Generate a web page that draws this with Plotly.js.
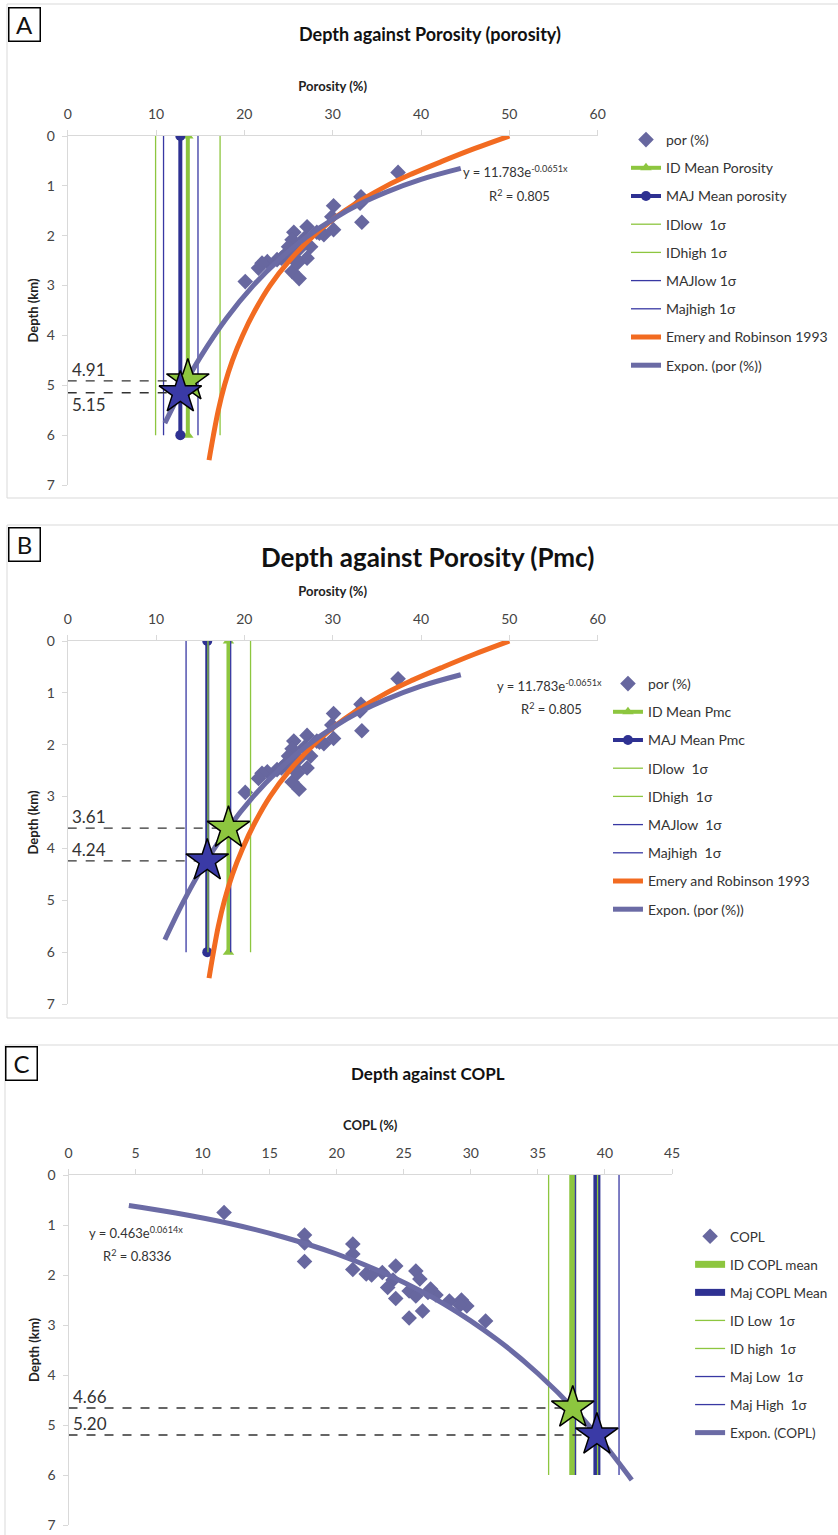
<!DOCTYPE html>
<html>
<head>
<meta charset="utf-8">
<script src="https://cdn.plot.ly/plotly-3.0.1.min.js"></script>
<style>html,body{margin:0;padding:0;background:#fff;}#chart{width:838px;height:1535px;}</style>
</head>
<body>
<div id="chart"></div>
<script>
// ---------- DATA ----------
// Porosity samples (panels A and B)
const porosityValues = [37.4,33.2,33.1,33.3,30.1,29.9,30.1,29.0,28.2,27.1,26.8,27.5,27.1,26.2,25.6,25.4,25.2,25.0,24.6,25.6,23.7,22.6,22.0,21.6,20.1,25.4,26.2,28.5,24.2,26.0];
const porosityDepths = [0.73,1.22,1.35,1.73,1.40,1.62,1.88,1.98,1.93,1.82,2.05,2.22,2.45,2.27,1.93,2.08,2.30,2.22,2.38,2.42,2.48,2.52,2.55,2.65,2.92,2.72,2.86,1.95,2.45,2.55];
// Exponential trend (por (%))
const porTrendX = [11.0,13.0,15.0,18.0,21.0,24.0,27.0,30.0,33.0,36.0,40.0,44.5];
const porTrendDepth = [5.76,5.06,4.44,3.65,3.00,2.47,2.03,1.67,1.37,1.13,0.87,0.65];
// Emery and Robinson 1993 curve
const emeryX = [50.0,46.1,42.5,39.1,36.1,31.35,27.85,25.1,22.9,21.2,19.8,18.65,17.75,17.05,16.5,16.0];
const emeryDepth = [0.0,0.25,0.5,0.75,1.0,1.5,2.0,2.5,3.0,3.5,4.0,4.5,5.0,5.5,6.0,6.5];
// COPL samples (panel C)
const coplValues = [11.6,17.6,17.6,17.6,21.2,21.2,21.2,22.2,23.4,24.4,24.2,23.8,24.4,25.9,26.2,25.4,25.9,26.4,25.4,27.0,27.4,28.4,29.3,29.7,29.2,31.1,26.8,22.6];
const coplDepths = [0.75,1.20,1.36,1.73,1.38,1.58,1.89,1.98,1.95,1.82,2.10,2.25,2.47,1.92,2.08,2.32,2.42,2.72,2.86,2.28,2.40,2.52,2.50,2.62,2.60,2.92,2.35,2.00];
const coplTrendX = [4.5,8,12,16,20,24,28,32,35,38,40,42];
const coplTrendDepth = [0.61,0.76,0.97,1.24,1.58,2.02,2.58,3.30,3.97,4.77,5.40,6.10];
// vertical reference lines span (km)
const lineDepthSpan = [0, 6];
// Panel A values (ID mean, MAJ mean, IDlow, IDhigh, MAJlow, Majhigh)
const panelAValues = [13.6, 12.75, 9.95, 17.25, 10.85, 14.75];
const panelAStarDepths = [4.91, 5.15];
// Panel B values
const panelBValues = [18.2, 15.8, 15.88, 20.7, 13.4, 18.45];
const panelBStarDepths = [3.61, 4.24];
// Panel C values (ID mean, Maj mean, ID low, ID high, Maj low, Maj high)
const panelCValues = [37.6, 39.4, 35.8, 39.45, 37.8, 41.05];
const panelCStarDepths = [4.66, 5.20];
// Tick labels
const porosityTicks = [0,10,20,30,40,50,60];
const coplTicks = [0,5,10,15,20,25,30,35,40,45];
const depthTicks = [0,1,2,3,4,5,6,7];

// ---------- STYLE ----------
const W = 838, H = 1535;
const fy = px => 1 - px / H;
const FONT = 'Lato, "Open Sans", sans-serif';
const DIAMOND = '#67679f';
const TREND = '#6b6ba5';
const ORANGE = '#f26b21';
const GREEN = '#8dc63f';
const BLUE = '#2e3192';
const BLUE_THIN = '#3838a3';

const traces = [];
function addPanel(opts) {
  const {xa, ya, lg, sx, sd, sname, vals, names, starDepths, meanStyle, trend, tname, emery} = opts;
  const grp = lg + '_g';
  traces.push({type:'scatter', mode:'markers', x:sx, y:sd, xaxis:xa, yaxis:ya, legend:lg, name:sname, legendgroup:grp+'0',
    marker:{symbol:'diamond', size:12, color:DIAMOND}});
  const meanColors = [GREEN, BLUE];
  for (let i = 0; i < 2; i++) {
    const t = {type:'scatter', x:[vals[i], vals[i]], y:lineDepthSpan, xaxis:xa, yaxis:ya, legend:lg, name:names[i], legendgroup:grp+'m'+i};
    if (meanStyle === 'markers') {
      t.mode = 'lines+markers';
      t.line = {color: meanColors[i], width: 4};
      t.marker = {symbol: i === 0 ? 'triangle-up' : 'circle', size: 10, color: meanColors[i]};
    } else {
      t.mode = 'lines';
      t.line = {color: meanColors[i], width: 7};
    }
    traces.push(t);
  }
  const thinColors = [GREEN, GREEN, BLUE_THIN, BLUE_THIN];
  for (let i = 2; i < 6; i++) {
    traces.push({type:'scatter', mode:'lines', x:[vals[i], vals[i]], y:lineDepthSpan, xaxis:xa, yaxis:ya, legend:lg,
      name:names[i], legendgroup:grp+'s'+i, line:{color:thinColors[i-2], width:1.3}});
  }
  if (emery) {
    traces.push({type:'scatter', mode:'lines', x:emeryX, y:emeryDepth, xaxis:xa, yaxis:ya, legend:lg,
      name:'Emery and Robinson 1993', legendgroup:grp+'e', line:{color:ORANGE, width:5, shape:'spline'}});
  }
  traces.push({type:'scatter', mode:'lines', x:trend[0], y:trend[1], xaxis:xa, yaxis:ya, legend:lg,
    name:tname, legendgroup:grp+'t', line:{color:TREND, width:5, shape:'spline'}});
  for (let i = 0; i < 2; i++) {
    traces.push({type:'scatter', mode:'lines', x:[0, vals[i]], y:[starDepths[i], starDepths[i]], xaxis:xa, yaxis:ya,
      showlegend:false, hoverinfo:'skip', line:{color:'#333', width:1.3, dash:'dash'}});
  }
  for (let i = 0; i < 2; i++) {
    traces.push({type:'scatter', mode:'markers', x:[vals[i]], y:[starDepths[i]], xaxis:xa, yaxis:ya, showlegend:false,
      marker:{symbol:'star', size:32, color: i === 0 ? GREEN : '#3a3aa6', line:{color:'#000', width:1.5}}});
  }
}

addPanel({xa:'x', ya:'y', lg:'legend', sx:porosityValues, sd:porosityDepths, sname:'por (%)', vals:panelAValues,
  names:['ID Mean Porosity','MAJ Mean porosity','IDlow\u00a0 1σ','IDhigh 1σ','MAJlow 1σ','Majhigh 1σ'],
  starDepths:panelAStarDepths, meanStyle:'markers', trend:[porTrendX, porTrendDepth], tname:'Expon. (por (%))', emery:true});
addPanel({xa:'x2', ya:'y2', lg:'legend2', sx:porosityValues, sd:porosityDepths, sname:'por (%)', vals:panelBValues,
  names:['ID Mean Pmc','MAJ Mean Pmc','IDlow\u00a0 1σ','IDhigh\u00a0 1σ','MAJlow\u00a0 1σ','Majhigh\u00a0 1σ'],
  starDepths:panelBStarDepths, meanStyle:'markers', trend:[porTrendX, porTrendDepth], tname:'Expon. (por (%))', emery:true});
addPanel({xa:'x3', ya:'y3', lg:'legend3', sx:coplValues, sd:coplDepths, sname:'COPL', vals:panelCValues,
  names:['ID COPL mean','Maj COPL Mean','ID Low\u00a0 1σ','ID high\u00a0 1σ','Maj Low\u00a0 1σ','Maj High\u00a0 1σ'],
  starDepths:panelCStarDepths, meanStyle:'thick', trend:[coplTrendX, coplTrendDepth], tname:'Expon. (COPL)', emery:false});

function xAxis(domain, range, ticks, anchor, title) {
  return {domain, range, anchor, side:'top', tickvals:ticks, ticktext:ticks.map(String), showgrid:false, zeroline:false,
    showline:true, linecolor:'#d9d9d9', linewidth:1, ticks:'outside', ticklen:5, tickcolor:'#d9d9d9',
    ticklabelstandoff:5, tickfont:{family:FONT, size:14, color:'#444'}, fixedrange:true,
    title:{text:title, standoff:10, font:{family:FONT, size:13, weight:'bold', color:'#222'}}};
}
function yAxis(domain, anchor) {
  return {domain, range:[7,0], anchor, tickvals:depthTicks, ticktext:depthTicks.map(String), showgrid:false, zeroline:false,
    showline:true, linecolor:'#d9d9d9', linewidth:1, ticks:'outside', ticklen:5, tickcolor:'#d9d9d9',
    ticklabelstandoff:4, tickfont:{family:FONT, size:14, color:'#444'}, fixedrange:true,
    title:{text:'Depth (km)', standoff:5, font:{family:FONT, size:13, weight:'bold', color:'#222'}}};
}

const legendBase = {xanchor:'left', yanchor:'top', bgcolor:'rgba(0,0,0,0)', tracegroupgap:7,
  font:{family:FONT, size:14, color:'#333'}};

function starLabel(xr, yr, d, below) {
  return {xref:xr, yref:yr, x:0, y:d, text:d.toFixed(2), showarrow:false, xanchor:'left',
    yanchor: below ? 'top' : 'bottom', xshift:2, yshift: below ? 1 : -1, font:{family:FONT, size:17, color:'#333'}};
}
function boxLabel(t, xpx, ypx) {
  return {xref:'paper', yref:'paper', x:xpx/W, y:fy(ypx), xanchor:'left', yanchor:'top', text:t, showarrow:false,
    width:28, height:30, borderpad:1, bordercolor:'#000', borderwidth:1.5, bgcolor:'#fff',
    font:{family:FONT, size:24, color:'#111'}};
}
function titleAnn(t, xpx, ypx, size) {
  return {xref:'paper', yref:'paper', x:xpx/W, y:fy(ypx), xanchor:'center', yanchor:'middle', text:t, showarrow:false,
    font:{family:FONT, size, weight:'bold', color:'#111'}};
}
function eqAnn(xr, yr, x, y, text, anchor) {
  return {xref:xr, yref:yr, x, y, text, showarrow:false, xanchor:anchor, yanchor:'middle',
    font:{family:FONT, size:13, color:'#333'}};
}

const layout = {
  width: W, height: H, margin:{l:0, r:0, t:0, b:0}, paper_bgcolor:'#fff', plot_bgcolor:'rgba(0,0,0,0)',
  hovermode:false,
  xaxis: xAxis([67.7/W, 597.7/W], [0,60], porosityTicks, 'y', 'Porosity (%)'),
  yaxis: yAxis([fy(485), fy(136)], 'x'),
  xaxis2: xAxis([67.7/W, 597.7/W], [0,60], porosityTicks, 'y2', 'Porosity (%)'),
  yaxis2: yAxis([fy(1004), fy(641)], 'x2'),
  xaxis3: xAxis([68.5/W, 672/W], [0,45], coplTicks, 'y3', 'COPL (%)'),
  yaxis3: yAxis([fy(1525), fy(1175)], 'x3'),
  legend: Object.assign({x:0.747, y:fy(124)}, legendBase),
  legend2: Object.assign({x:0.7255, y:fy(668)}, legendBase),
  legend3: Object.assign({x:0.8235, y:fy(1221)}, legendBase, {font:{family:FONT, size:13.5, color:'#333'}, tracegroupgap:7.5}),
  shapes: [
    {type:'rect', xref:'paper', yref:'paper', x0:7/W, x1:1.01, y0:fy(498), y1:fy(4), line:{color:'#d9d9d9', width:1}},
    {type:'rect', xref:'paper', yref:'paper', x0:7/W, x1:1.01, y0:fy(1018), y1:fy(525), line:{color:'#d9d9d9', width:1}},
    {type:'rect', xref:'paper', yref:'paper', x0:5/W, x1:1.01, y0:fy(1540), y1:fy(1045), line:{color:'#d9d9d9', width:1}}
  ],
  annotations: [
    titleAnn('Depth against Porosity (porosity)', 430, 34, 18),
    titleAnn('Depth against Porosity (Pmc)', 428, 557, 26),
    titleAnn('Depth against COPL', 428, 1073, 17),
    boxLabel('A', 8, 7), boxLabel('B', 8, 527), boxLabel('C', 5, 1046),
    starLabel('x','y', panelAStarDepths[0], false), starLabel('x','y', panelAStarDepths[1], true),
    starLabel('x2','y2', panelBStarDepths[0], false), starLabel('x2','y2', panelBStarDepths[1], false),
    starLabel('x3','y3', panelCStarDepths[0], false), starLabel('x3','y3', panelCStarDepths[1], false),
    eqAnn('x','y', 44.5, 0.72, 'y = 11.783e<sup>-0.0651x</sup>', 'left'),
    eqAnn('x','y', 51.2, 1.2, 'R<sup>2</sup> = 0.805', 'center'),
    eqAnn('x2','y2', 48.4, 0.85, 'y = 11.783e<sup>-0.0651x</sup>', 'left'),
    eqAnn('x2','y2', 54.8, 1.31, 'R<sup>2</sup> = 0.805', 'center'),
    eqAnn('x3','y3', 1.4, 1.14, 'y = 0.463e<sup>0.0614x</sup>', 'left'),
    eqAnn('x3','y3', 2.4, 1.6, 'R<sup>2</sup> = 0.8336', 'left')
  ]
};

Plotly.newPlot('chart', traces, layout, {staticPlot:true, displayModeBar:false});
</script>
</body>
</html>
